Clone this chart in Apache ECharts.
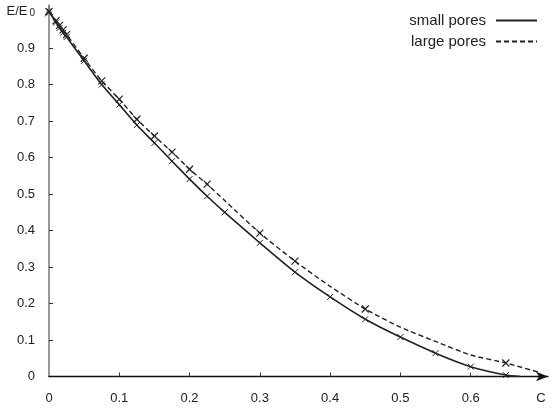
<!DOCTYPE html>
<html>
<head>
<meta charset="utf-8">
<script src="https://cdn.jsdelivr.net/npm/echarts@6/dist/echarts.min.js"></script>
<style>
  html, body { margin: 0; padding: 0; background: #fff; }
  #chart { width: 552px; height: 408px; }
</style>
</head>
<body>
<div id="chart"></div>
<script>
// concentration C
const smallX = [0, 0.01, 0.015, 0.02, 0.025, 0.05, 0.075, 0.1, 0.125, 0.15, 0.175, 0.2, 0.225, 0.25, 0.3, 0.35, 0.4, 0.45, 0.5, 0.55, 0.6, 0.65, 0.67]
const smallY = [1.0, 0.97, 0.955, 0.942, 0.93, 0.865, 0.8, 0.745, 0.689, 0.64, 0.59, 0.541, 0.494, 0.45, 0.366, 0.286, 0.218, 0.157, 0.108, 0.064, 0.027, 0.004, 0]
const smallMarked = [1, 1, 1, 1, 1, 1, 1, 1, 1, 1, 1, 1, 1, 1, 1, 1, 1, 1, 1, 1, 1, 1, 0]

const largeX = [0, 0.01, 0.015, 0.02, 0.025, 0.05, 0.075, 0.1, 0.125, 0.15, 0.175, 0.2, 0.225, 0.25, 0.3, 0.35, 0.4, 0.45, 0.5, 0.55, 0.6, 0.65, 0.7]
const largeY = [1.0, 0.975, 0.962, 0.95, 0.937, 0.872, 0.81, 0.76, 0.705, 0.659, 0.615, 0.568, 0.527, 0.482, 0.393, 0.316, 0.247, 0.185, 0.135, 0.096, 0.059, 0.037, 0.01]
const largeMarked = [1, 1, 1, 1, 1, 1, 1, 1, 1, 1, 1, 1, 1, 0, 1, 1, 0, 1, 0, 0, 0, 1, 0]

const xTicks = [0, 0.1, 0.2, 0.3, 0.4, 0.5, 0.6]
const yTicks = [0, 0.1, 0.2, 0.3, 0.4, 0.5, 0.6, 0.7, 0.8, 0.9]
const seriesNames = ['small pores', 'large pores']

const crossSymbol = 'path://M0,0L10,10M10,0L0,10'

function buildData(xs, ys, marked) {
  return xs.map((x, i) => ({
    value: [x, ys[i]],
    symbol: marked[i] ? crossSymbol : 'none'
  }))
}

const chart = echarts.init(document.getElementById('chart'))
const font = 'Liberation Sans, Arial, sans-serif'

const option = {
  backgroundColor: '#fff',
  animation: false,
  textStyle: { fontFamily: font },
  grid: { left: 49, right: 4, top: 5, bottom: 31.5 },
  legend: {
    orient: 'vertical',
    right: 14,
    top: 13,
    padding: 0,
    align: 'right',
    itemWidth: 41,
    itemHeight: 14,
    itemGap: 6,
    data: seriesNames,
    itemStyle: { opacity: 0 },
    textStyle: { fontFamily: font, fontSize: 15, color: '#222', padding: [0, 5, 0, 0] }
  },
  xAxis: {
    type: 'value',
    min: 0,
    max: 0.71,
    splitLine: { show: false },
    axisLine: {
      onZero: false,
      symbol: ['none', 'arrow'],
      symbolSize: [7, 12],
      lineStyle: { color: '#111', width: 1.3 }
    },
    axisTick: {
      inside: true,
      length: 4,
      customValues: xTicks.slice(1),
      lineStyle: { color: '#333' }
    },
    axisLabel: {
      customValues: xTicks.concat([0.7]),
      margin: 15,
      fontSize: 13,
      color: '#222',
      fontFamily: font,
      formatter: v => (v === 0.7 ? 'C' : String(v))
    }
  },
  yAxis: {
    type: 'value',
    min: 0,
    max: 1.018,
    splitLine: { show: false },
    axisLine: {
      onZero: false,
      symbol: ['none', 'arrow'],
      symbolSize: [7, 12],
      lineStyle: { color: '#777', width: 1.5 }
    },
    axisTick: {
      inside: true,
      length: 4,
      customValues: yTicks.slice(1),
      lineStyle: { color: '#333' }
    },
    axisLabel: {
      customValues: yTicks.concat([1.0]),
      margin: 14,
      fontSize: 13,
      color: '#222',
      fontFamily: font,
      formatter: v => (v === 1 ? '{a|E/E}{b|0}' : String(v)),
      rich: {
        a: { fontSize: 13, color: '#222', fontFamily: font },
        b: { fontSize: 10, color: '#222', fontFamily: font, padding: [4, 0, 0, 2] }
      }
    }
  },
  series: [
    {
      name: seriesNames[0],
      type: 'line',
      smooth: 0.2,
      symbolSize: 6,
      itemStyle: { color: '#222', borderColor: '#222', borderWidth: 1 },
      lineStyle: { color: '#222', width: 1.6, type: 'solid' },
      data: buildData(smallX, smallY, smallMarked)
    },
    {
      name: seriesNames[1],
      type: 'line',
      smooth: 0.2,
      symbolSize: 7,
      itemStyle: { color: '#222', borderColor: '#222', borderWidth: 1.2 },
      lineStyle: { color: '#222', width: 1.4, type: [5, 3] },
      data: buildData(largeX, largeY, largeMarked)
    }
  ]
}

chart.setOption(option)
</script>
</body>
</html>
